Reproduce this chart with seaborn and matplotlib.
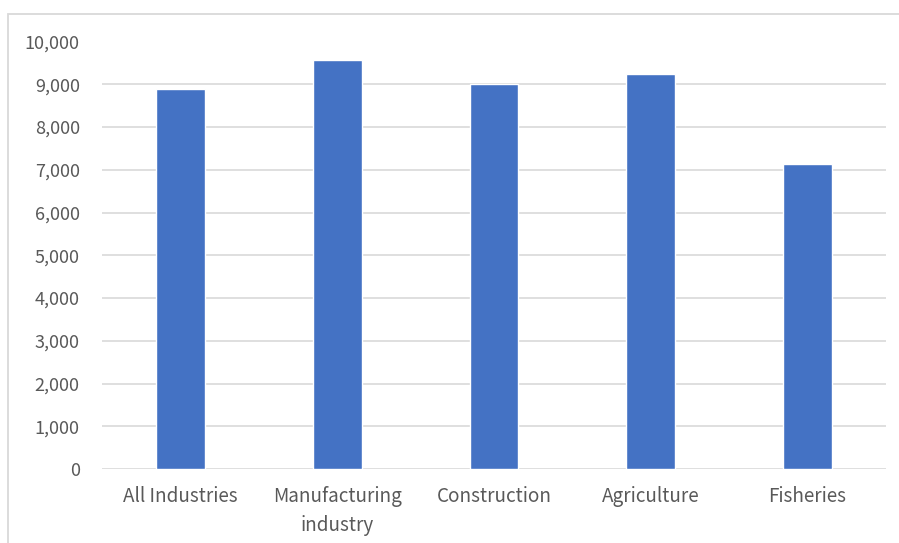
import matplotlib
matplotlib.use("Agg")
import matplotlib.pyplot as plt
import matplotlib.patches as mpatches
import seaborn as sns
import pandas as pd

# Values per industry
categories = ["All Industries", "Manufacturing\nindustry", "Construction", "Agriculture", "Fisheries"]
values = [8900, 9560, 9000, 9250, 7130]
yticks = [0, 1000, 2000, 3000, 4000, 5000, 6000, 7000, 8000, 9000, 10000]

df = pd.DataFrame({"category": categories, "value": values})

sns.set_theme(style="white")
plt.rcParams["font.family"] = ["Noto Sans CJK JP", "DejaVu Sans"]

W, H = 899, 543
fig = plt.figure(figsize=(W / 100, H / 100), dpi=100)
fig.patch.set_facecolor("white")

# chart frame
frame = mpatches.Rectangle((7.5 / W, -0.2), 2.0, 1.2 - 13.5 / H,
                           transform=fig.transFigure, fill=False,
                           edgecolor="#d9d9d9", linewidth=1.3)
fig.patches.append(frame)

left, right = 102 / W, 886 / W
bottom, top = (H - 469) / H, (H - 41.5) / H
ax = fig.add_axes([left, bottom, right - left, top - bottom])

sns.barplot(data=df, x="category", y="value", color="#4472C4",
            width=0.31, saturation=1, ax=ax, zorder=3)

ax.set_ylim(0, 10000)
ax.set_xlim(-0.5, len(categories) - 0.5)
ax.set_yticks(yticks)
ax.set_yticklabels([f"{v:,}" for v in yticks])
ax.yaxis.grid(True, color="#d9d9d9", linewidth=1.2, zorder=0)
ax.xaxis.grid(False)
ax.set_axisbelow(True)
for s in ax.spines.values():
    s.set_visible(False)
ax.set_xlabel("")
ax.set_ylabel("")
ax.tick_params(axis="both", length=0, labelsize=13, colors="#595959")
ax.tick_params(axis="x", labelsize=13.6, pad=12)
ax.tick_params(axis="y", pad=16)
for lbl in ax.get_xticklabels():
    lbl.set_linespacing(1.5)
    lbl.set_verticalalignment("top")

fig.savefig("out.png", dpi=100)
